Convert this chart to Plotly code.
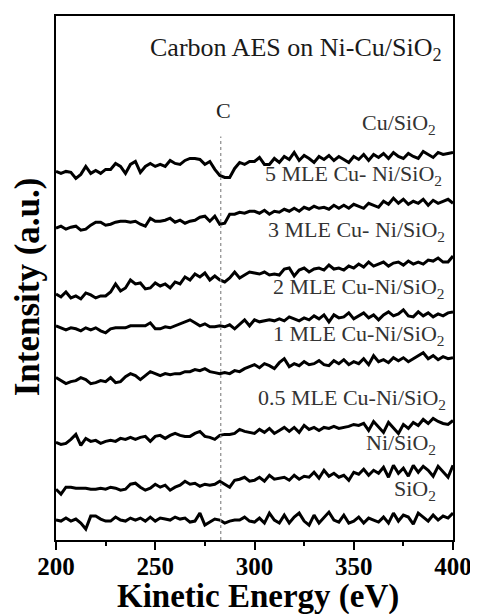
import plotly.graph_objects as go

# Kinetic energy grid (eV), 2.5 eV sampling
energy = [200 + 2.5 * i for i in range(81)]

# Offset spectra (arbitrary units, stacked as in the figure)
cu_sio2 = [370,368,370,369,363,367,375,368,371,368,372,372,378,375,368,377,380,369,375,378,
           375,377,375,381,378,377,381,383,383,382,377,380,372,366,364,364,373,379,377,380,
           380,384,377,377,383,379,385,382,389,381,386,383,379,385,382,386,381,385,382,379,
           385,382,387,381,387,384,388,383,389,385,383,388,385,383,390,387,384,389,387,388,389]
mle5 = [313,315,312,314,315,311,312,316,319,319,316,317,319,320,320,319,320,317,315,323,
        320,320,321,323,319,321,318,320,321,324,325,320,325,317,318,327,327,329,328,330,
        330,328,331,327,330,329,332,330,333,330,334,332,335,333,334,332,336,333,336,333,
        337,335,333,338,336,334,340,337,343,338,342,337,340,338,342,336,341,338,340,342,338]
mle3 = [247,244,249,243,245,242,248,246,243,245,245,249,257,250,253,261,257,258,252,253,
        258,255,257,253,259,257,264,261,267,264,268,261,265,261,259,263,269,263,266,269,
        268,267,269,266,267,266,272,273,265,271,273,269,272,273,271,276,272,273,271,275,
        273,277,274,279,275,277,279,275,278,279,276,280,277,279,277,281,280,283,279,279,285]
mle2 = [215,213,211,213,212,210,213,211,213,210,208,212,213,213,213,215,215,215,215,218,
        212,212,214,213,215,217,219,221,218,215,217,214,214,215,214,216,212,217,221,215,
        221,219,220,221,220,222,220,224,222,220,223,221,225,222,226,219,226,223,224,228,
        222,225,228,223,226,221,226,229,225,227,231,225,224,229,225,228,224,227,225,228,229]
mle1 = [163,160,157,159,160,163,161,157,158,160,159,163,158,159,164,167,165,161,165,169,
        167,165,167,166,167,167,169,169,171,170,172,169,168,167,168,167,170,169,172,174,
        176,173,177,175,172,178,182,174,177,175,179,176,177,180,176,175,180,177,181,176,
        179,177,182,176,185,179,181,178,183,180,183,179,182,185,188,182,185,181,184,182,183]
mle05 = [98,96,97,101,106,95,102,99,100,97,99,100,99,102,101,103,101,103,104,99,
         104,105,102,105,107,105,104,104,107,109,104,103,101,105,106,106,107,111,109,108,
         107,111,108,112,107,110,113,109,113,108,115,111,113,110,113,112,114,112,113,114,
         116,115,117,110,119,113,108,118,112,107,116,112,118,115,121,117,122,119,117,116,120]
ni_sio2 = [51,46,53,53,52,52,52,51,51,52,51,53,52,50,51,56,57,53,50,52,
           56,53,55,50,53,55,59,56,57,54,56,55,56,59,56,53,60,61,63,59,
           60,63,59,65,61,62,63,60,65,61,64,63,68,62,70,64,67,63,65,60,
           68,66,71,65,70,67,73,63,75,67,72,64,75,68,74,70,64,74,68,63,75]
sio2 = [20,19,22,19,21,17,11,24,24,21,19,19,23,20,19,22,20,22,19,23,
        19,22,21,20,23,21,22,18,19,27,15,18,21,20,17,19,20,20,23,19,
        18,22,17,27,20,17,25,17,23,27,19,15,25,17,23,28,20,18,25,17,
        19,23,17,22,20,18,23,17,27,19,25,23,16,27,23,19,25,20,24,22,27]

series = [cu_sio2, mle5, mle3, mle2, mle1, mle05, ni_sio2, sio2]
series_labels = ["Cu/SiO<sub>2</sub>", "5 MLE Cu- Ni/SiO<sub>2</sub>", "3 MLE Cu- Ni/SiO<sub>2</sub>",
                 "2 MLE Cu-Ni/SiO<sub>2</sub>", "1 MLE Cu-Ni/SiO<sub>2</sub>",
                 "0.5 MLE Cu-Ni/SiO<sub>2</sub>", "Ni/SiO<sub>2</sub>", "SiO<sub>2</sub>"]
carbon_peak = 283
x_ticks = [200, 250, 300, 350, 400]

# page is shown with an 8px body margin, so the figure is shifted by that
OFF = 8
W, H = 478 - OFF, 614 - OFF
PLOT_L, PLOT_R, PLOT_T, PLOT_B = 56, 458, 14, 540   # target page pixels
L, T = PLOT_L - OFF, PLOT_T - OFF
R = W + OFF - PLOT_R
B = H + OFF - PLOT_B
PW, PH = PLOT_R - PLOT_L, PLOT_B - PLOT_T


def paper(xp, yp):
    return (xp - PLOT_L) / PW, (PLOT_B - yp) / PH


fig = go.Figure()
for ys in series:
    fig.add_trace(go.Scatter(x=energy, y=ys, mode="lines",
                             line=dict(color="black", width=3), showlegend=False))

fig.add_shape(type="line", xref="x", yref="y", x0=carbon_peak, x1=carbon_peak, y0=0, y1=405,
              line=dict(color="#8a8a8a", width=1.2, dash="3px,3px"))

serif = "Liberation Serif, Times New Roman, serif"
label_pos = [(443, 122), (449, 174), (452, 230), (452, 287), (452, 334), (453, 398), (443, 444), (443, 490)]
for txt, (xp, yp) in zip(series_labels, label_pos):
    ax, ay = paper(xp, yp)
    fig.add_annotation(text=txt, x=ax, y=ay, xref="paper", yref="paper", xanchor="right",
                       yanchor="middle", showarrow=False, font=dict(family=serif, size=22, color="#333"))

ax, ay = paper(449, 47)
fig.add_annotation(text="Carbon AES on Ni-Cu/SiO<sub>2</sub>", x=ax, y=ay, xref="paper", yref="paper",
                   xanchor="right", yanchor="middle", showarrow=False,
                   font=dict(family=serif, size=26, color="#1a1a1a"))
ax, ay = paper(226, 109)
fig.add_annotation(text="C", x=ax, y=ay, xref="paper", yref="paper", xanchor="center",
                   yanchor="middle", showarrow=False, font=dict(family=serif, size=22, color="#222"))

ax, ay = paper(261, 597)
fig.add_annotation(text="<b>Kinetic Energy (eV)</b>", x=ax, y=ay, xref="paper", yref="paper",
                   xanchor="center", yanchor="middle", showarrow=False,
                   font=dict(family=serif, size=33, color="black"))
ax, ay = paper(28, 286)
fig.add_annotation(text="<b>Intensity (a.u.)</b>", x=ax, y=ay, xref="paper", yref="paper",
                   xanchor="center", yanchor="middle", textangle=-90, showarrow=False,
                   font=dict(family=serif, size=35, color="black"))

fig.update_xaxes(range=[200, 400], tickvals=x_ticks, ticks="outside", ticklen=8, tickwidth=1.5,
                 tickcolor="black", showline=True, mirror=True, linecolor="black", linewidth=1.5,
                 showgrid=False, zeroline=False, ticklabeloverflow="allow", ticklabelstandoff=-5,
                 tickfont=dict(family=serif, size=25, color="black", weight="bold"),
                 minor=dict(dtick=25, ticks="outside", ticklen=4, tickwidth=1.5, tickcolor="black"))
fig.update_yaxes(range=[0, PH], showticklabels=False, ticks="", showline=True, mirror=True,
                 linecolor="black", linewidth=1.5, showgrid=False, zeroline=False)

fig.update_layout(width=W, height=H, margin=dict(l=L, r=R, t=T, b=B), plot_bgcolor="white",
                  paper_bgcolor="white")

fig.write_html("out.html")
